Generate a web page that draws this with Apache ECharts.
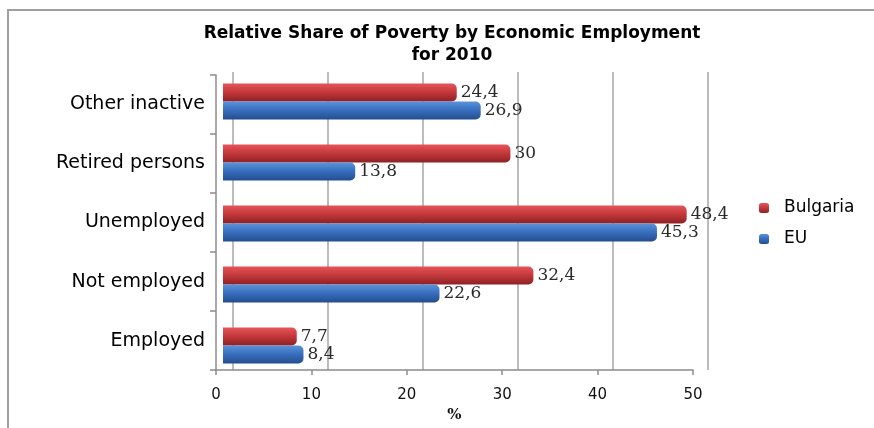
<!DOCTYPE html>
<html>
<head>
<meta charset="utf-8">
<script src="https://cdn.jsdelivr.net/npm/echarts@6/dist/echarts.min.js"></script>
<style>
html,body{margin:0;padding:0;background:#fff;}
#chart{width:874px;height:428px;}
</style>
</head>
<body>
<div id="chart"></div>
<script>
const categories = ['Employed', 'Not employed', 'Unemployed', 'Retired persons', 'Other inactive'];
const bulgaria = [7.7, 32.4, 48.4, 30, 24.4];
const eu = [8.4, 22.6, 45.3, 13.8, 26.9];
const xTicks = [0, 10, 20, 30, 40, 50];

const chart = echarts.init(document.getElementById('chart'));
const sans = '"DejaVu Sans", "Open Sans", sans-serif';
const serif = '"DejaVu Serif", "Liberation Serif", serif';

function grad(c1, c2, c3) {
  return new echarts.graphic.LinearGradient(0, 0, 0, 1, [
    {offset: 0, color: c1}, {offset: 0.45, color: c2}, {offset: 1, color: c3}
  ]);
}

const labelStyle = {show: true, position: 'right', distance: 4, color: '#2a2a2a', fontFamily: serif, fontSize: 17,
  formatter: p => String(p.value).replace('.', ',')};

chart.setOption({
  animation: false,
  title: {
    text: 'Relative Share of Poverty by Economic Employment\nfor 2010',
    left: 447, top: 18, textAlign: 'center',
    textStyle: {fontFamily: sans, fontWeight: 'bold', fontSize: 17, lineHeight: 22, color: '#000'}
  },
  legend: {
    orient: 'vertical', left: 754, top: 194,
    itemWidth: 10, itemHeight: 10, itemGap: 13,
    data: ['Bulgaria', 'EU'],
    textStyle: {fontFamily: sans, fontSize: 17, lineHeight: 18, color: '#000', padding: [0,0,0,10]}
  },
  graphic: [
    {type: 'polyline', shape: {points: [[8, 440], [8, 10], [890, 10]]},
     style: {stroke: '#a0a0a0', lineWidth: 2, fill: null}, silent: true}
  ],
  grid: [
    {left: 216, right: 181, top: 75, bottom: 48},
    {left: 233, right: 166, top: 72, bottom: 58},
    {left: 223, right: 172, top: 71, bottom: 52}
  ],
  xAxis: [
    {gridIndex: 0, type: 'value', min: 0, max: 50, interval: 10,
     axisLine: {show: true, lineStyle: {color: '#8c8c8c', width: 1.5}},
     axisTick: {show: true, length: 5, lineStyle: {color: '#8c8c8c', width: 1.5}},
     splitLine: {show: false},
     axisLabel: {margin: 18, fontFamily: sans, fontSize: 15, color: '#111'},
     name: '%', nameLocation: 'middle', nameGap: 36,
     nameTextStyle: {fontFamily: serif, fontWeight: 'bold', fontSize: 15, color: '#111'}},
    {gridIndex: 1, type: 'value', min: 0, max: 50, interval: 10,
     axisLine: {show: false}, axisTick: {show: false}, axisLabel: {show: false},
     splitLine: {show: true, lineStyle: {color: '#a6a6a6', width: 1.5}}},
    {gridIndex: 2, type: 'value', min: 0, max: 50, interval: 10, show: false, splitLine: {show: false}}
  ],
  yAxis: [
    {gridIndex: 0, type: 'category', data: categories,
     axisLine: {show: true, lineStyle: {color: '#8c8c8c', width: 1.5}},
     axisTick: {show: true, length: 6, lineStyle: {color: '#8c8c8c', width: 1.5}},
     axisLabel: {margin: 11, fontFamily: sans, fontSize: 19, color: '#000'}},
    {gridIndex: 1, type: 'category', data: categories, show: false},
    {gridIndex: 2, type: 'category', data: categories, show: false}
  ],
  series: [
    {name: 'Bulgaria', type: 'bar', xAxisIndex: 2, yAxisIndex: 2, data: bulgaria,
     barGap: '0%', barCategoryGap: '41%',
     itemStyle: {color: grad('#e6545a', '#c63a3c', '#8f2024'), borderRadius: [0, 5, 5, 0]},
     label: labelStyle},
    {name: 'EU', type: 'bar', xAxisIndex: 2, yAxisIndex: 2, data: eu,
     barGap: '0%', barCategoryGap: '41%',
     itemStyle: {color: grad('#5b93d9', '#3a70c0', '#234e8e'), borderRadius: [0, 5, 5, 0]},
     label: labelStyle}
  ]
});
</script>
</body>
</html>
